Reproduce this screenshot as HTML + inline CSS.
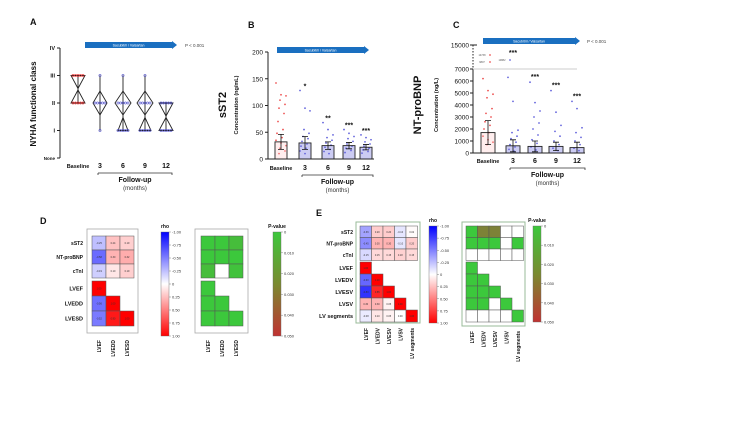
<!DOCTYPE html>
<html><head><meta charset="utf-8"><style>
html,body{margin:0;padding:0;background:#fff;}
svg{display:block;font-family:"Liberation Sans",sans-serif;}
</style></head><body>
<svg id="fig" width="750" height="441" viewBox="0 0 750 441" xmlns="http://www.w3.org/2000/svg">
<g id="A"></g>
<g id="B"></g>
<g id="C"></g>
<g id="D"></g>
<g id="E"></g>
</svg>
<script>
const NS="http://www.w3.org/2000/svg";
// ---------- data ----------
const months=["Baseline","3","6","9","12"];
const nyhaTicks=["IV","III","II","I","None"];
const nyhaMin=[2,1,1,1,1];
const nyhaMax=[3,3,3,3,2];
const nyhaTopW=[7,0,0,0,7];
const nyhaMidW=[0,7,8,8,0];
const nyhaBotW=[7,0,5,6,7];
const sst2Ticks=[0,50,100,150,200];
const sst2Means=[32,30,25,25,22];
const sst2Err=[14,12,7,6,5];
const sst2Pts=[[142,120,118,110,102,95,85,70,55,48,40,35,30,25,20,15,10],[128,95,90,55,48,42,38,33,28,24,20,15,10],[68,55,45,40,35,30,26,22,18,14,10],[55,48,42,38,33,28,24,20,16,12],[45,40,36,32,28,24,20,17,14,11]];
const sst2Stars=["","*","**","***","***"];
const ntTicks=[0,1000,2000,3000,4000,5000,6000,7000];
const ntMeans=[1700,600,550,550,450];
const ntErr=[1000,500,450,350,450];
const ntPts=[[6200,5200,4900,4600,3700,3300,3000,2600,2300,2000,1700,1400,1100,900,700],[6300,4300,1900,1700,1400,1200,900,700,500,300,150],[5900,4200,3500,3000,2500,2000,1500,1100,800,500,250],[5200,3400,2300,1800,1400,1000,700,400,200],[4300,3700,2100,1700,1300,1000,700,400,200]];
const ntStars=["","***","***","***","***"];
const dRows=["sST2","NT-proBNP","cTnI"];
const dCols=["LVEF","LVEDD","LVESD"];
const dRhoTop=[[-0.25,0.24,0.19],[-0.58,0.30,0.32],[-0.19,0.10,0.19]];
const dRhoBot=[[1.00],[-0.56,1.00],[-0.52,0.90,1.00]];
const dPTop=[[0,0,0.004],[0,0,0],[0.004,null,0.002]];
const dPBot=[[0],[0,0],[0,0,0]];
const eRows=["sST2","NT-proBNP","cTnI"];
const eCols=["LVEF","LVEDV","LVESV","LVSV","LV segments"];
const eRhoTop=[[-0.36,0.2,0.2,-0.1,0.02],[-0.45,0.3,0.3,-0.1,0.2],[-0.15,0.15,0.15,0.18,0.15]];
const eRhoBot=[[1.0],[-0.6,1.0],[-0.8,0.85,1.0],[0.3,0.3,0.05,1.0],[-0.08,0.1,0.05,0,1.0]];
const ePTop=[[0,0.025,0.025,null,null],[0,0,0,null,0],[null,null,null,null,null]];
const ePBot=[[0],[0,0],[0,0,0],[0,0,null,0],[null,null,null,null,0]];
const rhoTicks=["-1.00","-0.75","-0.50","-0.25","0","0.25","0.50","0.75","1.00"];
const pTicks=["0","0.010","0.020","0.030","0.040","0.050"];
// ---------- helpers ----------
function mk(p,tag,at,txt){const e=document.createElementNS(NS,tag);for(const k in at)e.setAttribute(k,at[k]);if(txt!==undefined)e.textContent=txt;p.appendChild(e);return e;}
function T(p,x,y,s,opt){opt=opt||{};return mk(p,"text",Object.assign({x:x,y:y,"font-size":opt.fs||6,"text-anchor":opt.a||"middle",fill:opt.fill||"#111","font-weight":opt.w||"normal"},opt.tr?{transform:opt.tr}:{}),s);}
function rhoCol(v){const t=Math.abs(v);const c=Math.round(255*(1-t));return v<0?`rgb(${c},${c},255)`:`rgb(255,${c},${c})`;}
function pCol(p){const t=p/0.05;return `rgb(${Math.round(60+130*t)},${Math.round(200-140*t)},${Math.round(60-10*t)})`;}
function arrow(g,x1,x2,y){const a=mk(g,"rect",{x:x1,y:y,width:x2-x1,height:6,fill:"#1a6fc0"});
mk(g,"polygon",{points:`${x2},${y-1} ${x2+5},${y+3} ${x2},${y+7}`,fill:"#1a6fc0"});T(g,(x1+x2)/2,y+4.5,"Sacubitril / Valsartan",{fs:3.5,fill:"#fff"});}
function xlabels(g,xs,y,bx1,bx2){months.forEach((m,i)=>T(g,xs[i],y,m,{fs:i==0?5.5:7,w:"bold"}));
mk(g,"path",{d:`M${bx1},${y+7} v-2 M${bx1},${y+5} H${bx2} v2`,stroke:"#333",fill:"none","stroke-width":0.8});
T(g,(bx1+bx2)/2,y+14,"Follow-up",{fs:7,w:"bold"});T(g,(bx1+bx2)/2,y+22,"(months)",{fs:6,fill:"#333"});}
// ---------- A ----------
(function(){const g=document.getElementById("A");T(g,30,25,"A",{fs:9,w:"bold",a:"start"});
const yA=i=>48+i*27.5;const xs=[78,100,123,145,166];
mk(g,"line",{x1:60,y1:48,x2:60,y2:158,stroke:"#222","stroke-width":1});
nyhaTicks.forEach((t,i)=>{mk(g,"line",{x1:57,y1:yA(i),x2:60,y2:yA(i),stroke:"#222"});T(g,55,yA(i)+2,t,{fs:i==4?4.5:5.5,a:"end",w:"bold"});});
T(g,36,104,"NYHA functional class",{fs:8,w:"bold",tr:"rotate(-90 36 104)"});
const cls=v=>yA(4-v);
months.forEach((m,i)=>{const col=i==0?"#e33":"#55c";const y1=cls(nyhaMax[i]),y2=cls(nyhaMin[i]),x=xs[i];
mk(g,"line",{x1:x,y1:y1,x2:x,y2:y2,stroke:"#222","stroke-width":0.9});
const w=nyhaTopW[i];if(w){const v=mk(g,"path",{d:`M${x-w},${y1}H${x+w}L${x},${y1+13}Z`,stroke:"#222",fill:"none","stroke-width":0.9});}
const b=nyhaBotW[i];if(b){const v=mk(g,"path",{d:`M${x-b},${y2}H${x+b}L${x},${y2-13}Z`,stroke:"#222",fill:"none","stroke-width":0.9});}
const md=nyhaMidW[i];if(md){const ym=cls(2);const v=mk(g,"path",{d:`M${x-md},${ym}L${x},${ym-12}L${x+md},${ym}L${x},${ym+12}Z`,stroke:"#222",fill:"none","stroke-width":0.9});
for(let k=-2;k<=2;k++)mk(g,"circle",{cx:x+k*2.5,cy:ym,r:1.1,fill:"none",stroke:col,"stroke-width":0.6});}
[[y1,w],[y2,b]].forEach(([yy,ww])=>{const n=ww?5:1;for(let k=0;k<n;k++)mk(g,"circle",{cx:x+(k-(n-1)/2)*2.5,cy:yy,r:1.1,fill:"none",stroke:col,"stroke-width":0.6});});});
arrow(g,85,172,42);T(g,185,47,"P < 0.001",{fs:4.5,a:"start",fill:"#444"});
xlabels(g,xs,168,98,172);})();
// ---------- B ----------
(function(){const g=document.getElementById("B");T(g,248,28,"B",{fs:9,w:"bold",a:"start"});
const y=v=>159-v*(107/200);const xs=[281,305,328,349,366];
mk(g,"line",{x1:268,y1:52,x2:268,y2:159,stroke:"#222"});mk(g,"line",{x1:268,y1:159,x2:374,y2:159,stroke:"#222"});
sst2Ticks.forEach(t=>{mk(g,"line",{x1:265,y1:y(t),x2:268,y2:y(t),stroke:"#222"});T(g,263,y(t)+2.5,t,{fs:6.5,a:"end"});});
T(g,226,105,"sST2",{fs:11,w:"bold",tr:"rotate(-90 226 105)"});
T(g,238,105,"Concentration (ng/mL)",{fs:5.5,w:"bold",tr:"rotate(-90 238 105)"});
months.forEach((m,i)=>{const col=i==0?"#e55":"#66d";
sst2Pts[i].forEach((v,j)=>mk(g,"circle",{cx:xs[i]+((j*5)%11-5),cy:y(v),r:0.9,fill:col}));
const b=mk(g,"rect",{x:xs[i]-6,y:y(sst2Means[i]),width:12,height:159-y(sst2Means[i]),fill:i==0?"rgba(255,200,200,0.3)":"rgba(110,110,220,0.35)",stroke:"#222","stroke-width":0.9});

const e1=y(sst2Means[i]+sst2Err[i]),e2=y(sst2Means[i]-sst2Err[i]);
mk(g,"path",{d:`M${xs[i]},${e1}V${e2}M${xs[i]-3},${e1}h6M${xs[i]-3},${e2}h6`,stroke:"#111","stroke-width":0.8});
if(sst2Stars[i])T(g,xs[i],y(sst2Pts[i][0])-2,sst2Stars[i],{fs:7,w:"bold"});});
arrow(g,277,364,47);
xlabels(g,xs,170,302,373);})();
// ---------- C ----------
(function(){const g=document.getElementById("C");T(g,453,28,"C",{fs:9,w:"bold",a:"start"});
const y=v=>153-v*(84/7000);const xs=[488,513,535,556,577];
mk(g,"line",{x1:473,y1:69,x2:473,y2:153,stroke:"#222"});mk(g,"line",{x1:473,y1:153,x2:585,y2:153,stroke:"#222"});
mk(g,"line",{x1:473,y1:45,x2:473,y2:69,stroke:"#222","stroke-dasharray":"1.5,1.5"});
mk(g,"line",{x1:473,y1:69,x2:577,y2:69,stroke:"#bbb","stroke-width":0.8});
mk(g,"line",{x1:470,y1:45,x2:477,y2:45,stroke:"#222"});T(g,469,47.5,"15000",{fs:6.5,a:"end"});
ntTicks.forEach(t=>{mk(g,"line",{x1:470,y1:y(t),x2:473,y2:y(t),stroke:"#222"});T(g,469,y(t)+2.5,t,{fs:6.5,a:"end"});});
T(g,421,105,"NT-proBNP",{fs:11,w:"bold",tr:"rotate(-90 421 105)"});
T(g,438,105,"Concentration (ng/L)",{fs:5.5,w:"bold",tr:"rotate(-90 438 105)"});
T(g,482,56,"14738",{fs:2.5,fill:"#555"});mk(g,"circle",{cx:490,cy:55,r:0.9,fill:"#e55"});
T(g,482,63,"9807",{fs:2.5,fill:"#555"});mk(g,"circle",{cx:490,cy:62,r:0.9,fill:"#e55"});
T(g,502,61,"10882",{fs:2.5,fill:"#555"});mk(g,"circle",{cx:510,cy:60,r:0.9,fill:"#66d"});
months.forEach((m,i)=>{const col=i==0?"#e55":"#66d";
ntPts[i].forEach((v,j)=>mk(g,"circle",{cx:xs[i]+((j*5)%11-5),cy:y(v),r:0.9,fill:col}));
const b=mk(g,"rect",{x:xs[i]-7,y:y(ntMeans[i]),width:14,height:153-y(ntMeans[i]),fill:i==0?"rgba(255,200,200,0.3)":"rgba(110,110,220,0.35)",stroke:"#222","stroke-width":0.9});

const e1=y(ntMeans[i]+ntErr[i]),e2=y(Math.max(0,ntMeans[i]-ntErr[i]));
mk(g,"path",{d:`M${xs[i]},${e1}V${e2}M${xs[i]-3},${e1}h6M${xs[i]-3},${e2}h6`,stroke:"#111","stroke-width":0.8});
if(ntStars[i])T(g,xs[i],i==1?55:y(ntPts[i][0])-3,ntStars[i],{fs:7,w:"bold"});});
arrow(g,483,575,38);T(g,587,43,"P < 0.001",{fs:4.5,a:"start",fill:"#444"});
xlabels(g,xs,163,510,585);})();
// ---------- heatmaps ----------
function heat(g,o){
const pos=[];
o.top.forEach((r,i)=>r.forEach((v,j)=>pos.push([o.x0+j*o.cw,o.yTop+i*o.rhTop,o.rhTop,v])));
o.bot.forEach((r,i)=>r.forEach((v,j)=>pos.push([o.x0+j*o.cw,o.yBot+i*o.rhBot,o.rhBot,v])));
pos.forEach(p=>{const c=mk(g,"rect",{x:p[0],y:p[1],width:o.cw,height:p[2],fill:p[3]===null?"#fff":o.colorFn(p[3]),stroke:"#555","stroke-width":0.5});

if(o.txt&&p[3]!==null)T(g,p[0]+o.cw/2,p[1]+p[2]/2+1,p[3].toFixed(2),{fs:2.5,fill:"#333"});});
if(o.showLbl){o.rows.forEach((r,i)=>T(g,o.lblX,o.yTop+i*o.rhTop+o.rhTop/2+2,r,{fs:5,a:"end",w:"bold"}));
o.cols.forEach((r,i)=>T(g,o.lblX,o.yBot+i*o.rhBot+o.rhBot/2+2,r,{fs:5.5,a:"end",w:"bold"}));}
o.cols.forEach((c,j)=>{const cx=o.x0+j*o.cw+o.cw/2+2,cy=o.colY;T(g,cx,cy,c,{fs:5,a:"end",w:"bold",tr:`rotate(-90 ${cx} ${cy})`});});}
function bar(g,x,y1,y2,w,title,ticks,grad){const id="gr"+Math.round(x);const d=mk(g,"defs",{});const lg=mk(d,"linearGradient",{id:id,x1:0,y1:0,x2:0,y2:1});
grad.forEach((c,i)=>mk(lg,"stop",{offset:i/(grad.length-1),"stop-color":c}));
const r=mk(g,"rect",{x:x,y:y1,width:w,height:y2-y1,fill:`url(#${id})`,stroke:"#666","stroke-width":0.4});
T(g,x+w/2,y1-4,title,{fs:5,w:"bold"});ticks.forEach((t,i)=>{const yy=y1+(y2-y1)*i/(ticks.length-1);mk(g,"line",{x1:x+w,y1:yy,x2:x+w+2,y2:yy,stroke:"#666","stroke-width":0.4});T(g,x+w+3,yy+1.5,t,{fs:4,a:"start",fill:"#333"});});}
const rhoGrad=["#0000ff","#ffffff","#ff0000"],pGrad=["#3cc83c","#7a8a30","#c03232"];
(function(){const g=document.getElementById("D");T(g,40,224,"D",{fs:9,w:"bold",a:"start"});
mk(g,"rect",{x:87,y:229,width:51,height:104,fill:"none",stroke:"#aaa","stroke-width":0.8});
mk(g,"rect",{x:195,y:229,width:53,height:104,fill:"none",stroke:"#aaa","stroke-width":0.8});
heat(g,{x0:92,yTop:236,yBot:281,cw:14,rhTop:14,rhBot:15,rows:dRows,cols:dCols,top:dRhoTop,bot:dRhoBot,colorFn:rhoCol,lblX:83,showLbl:true,txt:true,colY:340});
heat(g,{x0:201,yTop:236,yBot:281,cw:14,rhTop:14,rhBot:15,rows:dRows,cols:dCols,top:dPTop,bot:dPBot,colorFn:pCol,lblX:0,showLbl:false,txt:false,colY:340});
bar(g,161,232,336,8,"rho",rhoTicks,rhoGrad);bar(g,273,232,336,8,"P-value",pTicks,pGrad);})();
(function(){const g=document.getElementById("E");T(g,316,216,"E",{fs:9,w:"bold",a:"start"});
mk(g,"rect",{x:356,y:222,width:64,height:101,fill:"none",stroke:"#9b9","stroke-width":1});
mk(g,"rect",{x:462,y:222,width:63,height:104,fill:"none",stroke:"#9b9","stroke-width":1});
heat(g,{x0:360,yTop:226,yBot:262,cw:11.5,rhTop:11.5,rhBot:12,rows:eRows,cols:eCols,top:eRhoTop,bot:eRhoBot,colorFn:rhoCol,lblX:353,showLbl:true,txt:true,colY:328});
heat(g,{x0:466,yTop:226,yBot:262,cw:11.5,rhTop:11.5,rhBot:12,rows:eRows,cols:eCols,top:ePTop,bot:ePBot,colorFn:pCol,lblX:0,showLbl:false,txt:false,colY:331});
bar(g,429,226,323,8,"rho",rhoTicks,rhoGrad);bar(g,533,226,322,8,"P-value",pTicks,pGrad);})();
</script>
</body></html>
